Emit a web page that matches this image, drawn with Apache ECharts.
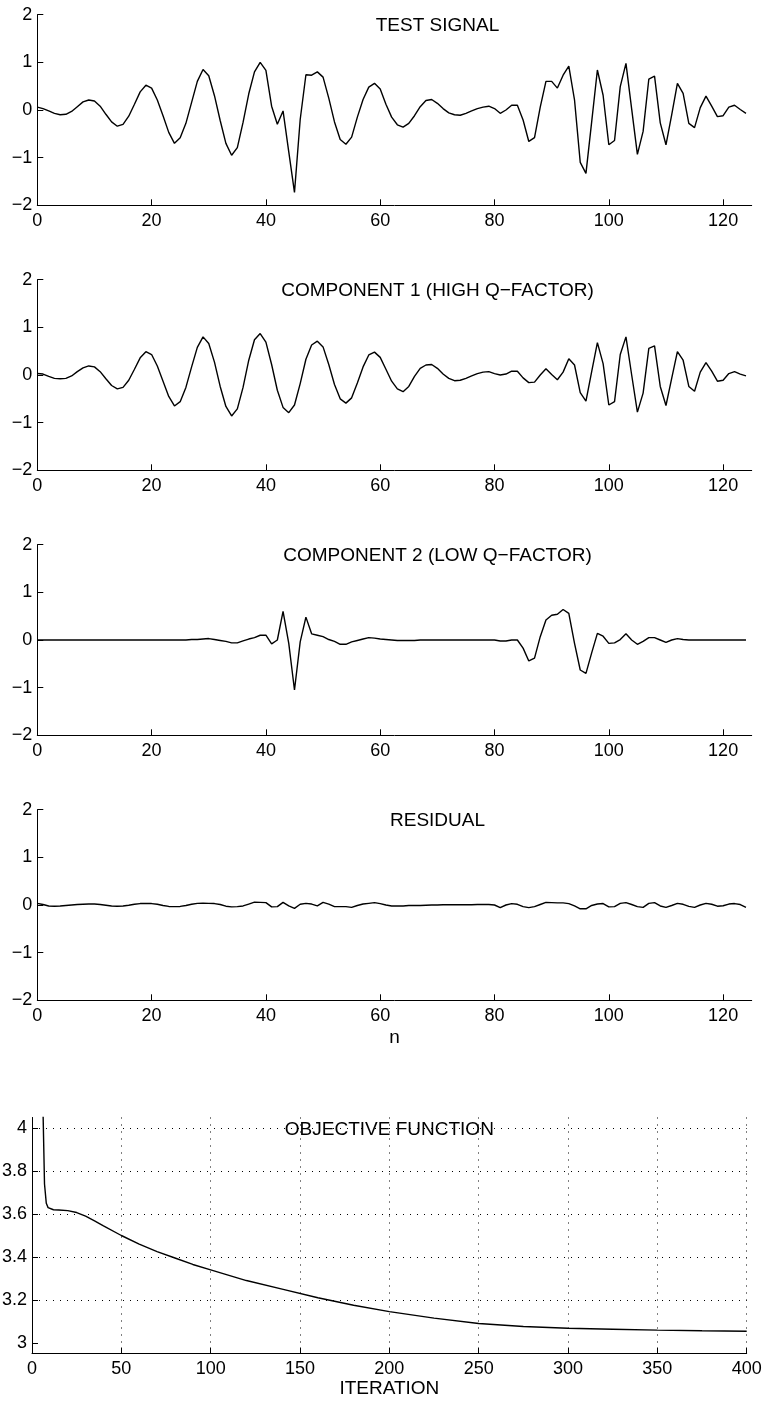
<!DOCTYPE html>
<html>
<head>
<meta charset="utf-8">
<title>Signal decomposition</title>
<script src="https://cdn.jsdelivr.net/npm/echarts@6/dist/echarts.min.js"></script>
<style>
  html, body { margin: 0; padding: 0; background: #fff; }
  #main { width: 767px; height: 1406px; }
</style>
</head>
<body>
<div id="main"></div>
<script>
// data, one value per sample n = 0..124
var testSignal = [
  0.06, 0.03, -0.02, -0.07, -0.10, -0.09, -0.03, 0.07, 0.17, 0.21,
  0.19, 0.08, -0.09, -0.25, -0.34, -0.30, -0.13, 0.12, 0.38, 0.52,
  0.46, 0.21, -0.12, -0.47, -0.70, -0.58, -0.28, 0.16, 0.60, 0.85,
  0.72, 0.30, -0.22, -0.70, -0.95, -0.79, -0.26, 0.34, 0.80, 1.00,
  0.83, 0.08, -0.30, -0.02, -0.88, -1.73, -0.20, 0.74, 0.73, 0.80,
  0.69, 0.25, -0.25, -0.62, -0.72, -0.57, -0.15, 0.22, 0.48, 0.56,
  0.44, 0.12, -0.15, -0.31, -0.36, -0.28, -0.12, 0.07, 0.20, 0.22,
  0.14, 0.03, -0.06, -0.10, -0.11, -0.07, -0.02, 0.03, 0.06, 0.08,
  0.03, -0.07, 0.00, 0.10, 0.10, -0.21, -0.66, -0.58, 0.06, 0.60,
  0.60, 0.46, 0.73, 0.92, 0.21, -1.10, -1.33, -0.25, 0.84, 0.31,
  -0.73, -0.64, 0.49, 0.98, 0.02, -0.93, -0.45, 0.65, 0.71, -0.27,
  -0.73, -0.10, 0.56, 0.35, -0.28, -0.37, 0.05, 0.29, 0.08, -0.14,
  -0.12, 0.06, 0.10, 0.01, -0.07
];

var component1 = [
  0.03, 0.02, -0.03, -0.07, -0.08, -0.07, -0.02, 0.07, 0.15, 0.19,
  0.17, 0.07, -0.08, -0.22, -0.29, -0.26, -0.11, 0.12, 0.36, 0.49,
  0.43, 0.19, -0.13, -0.45, -0.65, -0.56, -0.26, 0.17, 0.58, 0.80,
  0.66, 0.27, -0.24, -0.66, -0.86, -0.71, -0.26, 0.31, 0.74, 0.87,
  0.69, 0.22, -0.32, -0.68, -0.79, -0.63, -0.18, 0.33, 0.63, 0.71,
  0.59, 0.22, -0.20, -0.50, -0.59, -0.48, -0.17, 0.17, 0.42, 0.48,
  0.37, 0.12, -0.13, -0.29, -0.35, -0.24, -0.03, 0.14, 0.21, 0.22,
  0.14, 0.02, -0.07, -0.12, -0.11, -0.07, -0.02, 0.03, 0.06, 0.07,
  0.03, 0.00, 0.02, 0.08, 0.08, -0.06, -0.16, -0.15, 0.00, 0.13,
  0.01, -0.10, 0.06, 0.34, 0.21, -0.37, -0.55, 0.07, 0.68, 0.24,
  -0.63, -0.56, 0.43, 0.80, 0.00, -0.78, -0.38, 0.56, 0.61, -0.24,
  -0.64, -0.07, 0.49, 0.31, -0.24, -0.34, 0.06, 0.26, 0.08, -0.13,
  -0.11, 0.03, 0.07, 0.02, -0.02
];

var component2 = [
  0, 0, 0, 0, 0, 0, 0, 0, 0, 0,
  0, 0, 0, 0, 0, 0, 0, 0, 0, 0,
  0, 0, 0, 0, 0, 0.00, 0.00, 0.01, 0.01, 0.02,
  0.03, 0.01, -0.01, -0.03, -0.06, -0.06, -0.02, 0.02, 0.05, 0.10,
  0.10, -0.08, 0.00, 0.60, -0.07, -1.05, -0.04, 0.48, 0.13, 0.10,
  0.07, 0.01, -0.03, -0.09, -0.09, -0.04, -0.01, 0.02, 0.05, 0.04,
  0.02, 0.01, 0.00, -0.01, -0.01, -0.01, -0.01, 0.00, 0.00, 0.00,
  0, 0, 0, 0, 0, 0, 0, 0, 0, 0,
  0.00, -0.02, -0.02, 0.00, 0.00, -0.17, -0.44, -0.38, 0.07, 0.42,
  0.52, 0.54, 0.64, 0.56, -0.07, -0.63, -0.70, -0.27, 0.14, 0.08,
  -0.07, -0.06, 0.01, 0.13, 0.00, -0.09, -0.03, 0.05, 0.05, 0.00,
  -0.05, 0.00, 0.03, 0.01, 0, 0, 0, 0, 0, 0,
  0, 0, 0, 0, 0
];

var residual = [
  0.035, 0.01, -0.02, -0.025, -0.02, -0.01, 0.0, 0.01, 0.015, 0.02,
  0.02, 0.01, -0.005, -0.02, -0.025, -0.02, -0.005, 0.015, 0.03, 0.035,
  0.03, 0.015, -0.01, -0.03, -0.035, -0.03, -0.01, 0.015, 0.035, 0.04,
  0.035, 0.03, 0.01, -0.025, -0.04, -0.035, -0.02, 0.02, 0.06, 0.055,
  0.05, -0.04, -0.035, 0.055, -0.02, -0.07, 0.015, 0.035, 0.02, -0.02,
  0.055, 0.02, -0.035, -0.035, -0.035, -0.05, -0.01, 0.02, 0.035, 0.05,
  0.03, 0.0, -0.02, -0.02, -0.02, -0.01, -0.01, -0.01, -0.005, 0.0,
  0.0, 0.005, 0.005, 0.005, 0.005, 0.005, 0.005, 0.01, 0.01, 0.01,
  0.0, -0.055, 0.0, 0.03, 0.015, -0.035, -0.055, -0.035, 0.01, 0.055,
  0.05, 0.045, 0.045, 0.03, -0.02, -0.08, -0.08, -0.01, 0.02, 0.03,
  -0.04, -0.035, 0.035, 0.05, 0.01, -0.035, -0.05, 0.035, 0.05, -0.02,
  -0.05, -0.01, 0.035, 0.015, -0.03, -0.05, 0.0, 0.035, 0.015, -0.025,
  -0.015, 0.02, 0.03, 0.01, -0.05
];

// objective function vs iteration (read at selected iterations)
var iterations = [5, 6, 7, 8, 9, 10, 12, 15, 20, 25, 30, 35, 40, 50, 60, 70, 80, 90, 100,
  120, 140, 160, 180, 200, 225, 250, 275, 300, 325, 350, 375, 400];
var objective = [4.6, 4.15, 3.74, 3.65, 3.63, 3.622, 3.62, 3.619, 3.616, 3.607, 3.59, 3.568, 3.545,
  3.50, 3.46, 3.425, 3.395, 3.365, 3.34, 3.29, 3.25, 3.21, 3.175, 3.145, 3.115, 3.09,
  3.076, 3.068, 3.063, 3.059, 3.056, 3.054];

var panelTitles = ['TEST SIGNAL', 'COMPONENT 1 (HIGH Q\u2212FACTOR)', 'COMPONENT 2 (LOW Q\u2212FACTOR)', 'RESIDUAL'];
var nTicks = [0, 20, 40, 60, 80, 100, 120];
var ampTicks = [-2, -1, 0, 1, 2];
var iterTicks = [0, 50, 100, 150, 200, 250, 300, 350, 400];
var objTicks = [3, 3.2, 3.4, 3.6, 3.8, 4];

var FONT = 'Liberation Sans, Arial, Helvetica, sans-serif';

function minus(v) {
  return String(v).replace('-', '\u2212');
}

var chart = echarts.init(document.getElementById('main'), null, { renderer: 'canvas' });

var signals = [testSignal, component1, component2, residual];
var grids = [], xAxes = [], yAxes = [], series = [], texts = [];

var axisLineStyle = { color: '#000', width: 1 };

signals.forEach(function (sig, k) {
  var top = 14.7 + 265 * k;
  grids.push({ left: 37.3, top: top, width: 714.4, height: 190.6, outerBoundsMode: 'none' });
  xAxes.push({
    type: 'value', gridIndex: k, min: 0, max: 125,
    axisLine: { onZero: false, lineStyle: axisLineStyle },
    axisTick: { inside: true, length: 6, customValues: nTicks, lineStyle: axisLineStyle },
    axisLabel: { customValues: nTicks, color: '#000', fontSize: 18, fontFamily: FONT, margin: 7 },
    splitLine: { show: false },
    name: k === 3 ? 'n' : '', nameLocation: 'middle', nameGap: 28,
    nameTextStyle: { color: '#000', fontSize: 19, fontFamily: FONT }
  });
  yAxes.push({
    type: 'value', gridIndex: k, min: -2, max: 2, interval: 1,
    axisLine: { show: true, onZero: false, lineStyle: axisLineStyle },
    axisTick: { show: true, inside: true, length: 6, customValues: ampTicks, lineStyle: axisLineStyle },
    axisLabel: { customValues: ampTicks, color: '#000', fontSize: 18, fontFamily: FONT, margin: 5, formatter: minus },
    splitLine: { show: false }
  });
  series.push({
    type: 'line', xAxisIndex: k, yAxisIndex: k,
    data: sig.map(function (v, i) { return [i, v]; }),
    showSymbol: false, symbol: 'none',
    lineStyle: { color: '#000', width: 1.4 },
    silent: true
  });
  texts.push({
    type: 'text', x: 437.5, y: top + 11,
    style: { text: panelTitles[k], font: '19px ' + FONT, fill: '#000', align: 'center', verticalAlign: 'middle' }
  });
});

// objective function panel
var dotted = { color: '#000', width: 1, type: [1, 6] };
grids.push({ left: 32, top: 1117.5, width: 714.7, height: 236, outerBoundsMode: 'none' });
xAxes.push({
  type: 'value', gridIndex: 4, min: 0, max: 400, interval: 50,
  axisLine: { onZero: false, lineStyle: axisLineStyle },
  axisTick: { inside: true, length: 6, customValues: iterTicks, lineStyle: axisLineStyle },
  axisLabel: { customValues: iterTicks, color: '#000', fontSize: 18, fontFamily: FONT, margin: 7 },
  splitLine: { show: true, lineStyle: dotted },
  name: 'ITERATION', nameLocation: 'middle', nameGap: 26,
  nameTextStyle: { color: '#000', fontSize: 19, fontFamily: FONT }
});
yAxes.push({
  type: 'value', gridIndex: 4, min: 2.95, max: 4.05, splitNumber: 5,
  axisLine: { show: true, onZero: false, lineStyle: axisLineStyle },
  axisTick: { show: true, inside: true, length: 6, customValues: objTicks, lineStyle: axisLineStyle },
  axisLabel: { customValues: objTicks, color: '#000', fontSize: 18, fontFamily: FONT, margin: 5 },
  splitLine: { show: true, showMinLine: false, lineStyle: dotted }
});
series.push({
  type: 'line', xAxisIndex: 4, yAxisIndex: 4,
  data: iterations.map(function (it, i) { return [it, objective[i]]; }),
  showSymbol: false, symbol: 'none', clip: true,
  lineStyle: { color: '#000', width: 1.4 },
  silent: true
});
texts.push({
  type: 'text', x: 32 + 714.7 / 2, y: 1129.5,
  style: { text: 'OBJECTIVE FUNCTION', font: '19px ' + FONT, fill: '#000', align: 'center', verticalAlign: 'middle' }
});

chart.setOption({
  animation: false,
  backgroundColor: '#fff',
  grid: grids,
  xAxis: xAxes,
  yAxis: yAxes,
  series: series,
  graphic: texts
});
</script>
</body>
</html>
